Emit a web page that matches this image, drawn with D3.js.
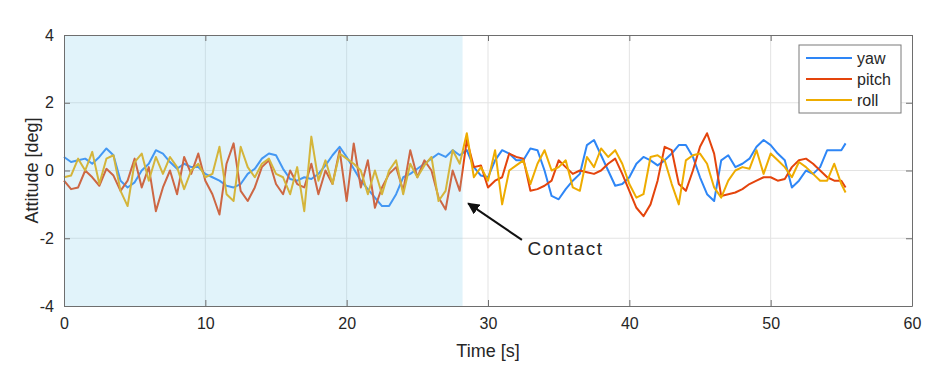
<!DOCTYPE html>
<html>
<head>
<meta charset="utf-8">
<script src="https://cdn.jsdelivr.net/npm/d3@7"></script>
<style>
  body { margin: 0; background: #fff; }
  text { font-family: "Liberation Sans", Arial, sans-serif; fill: #262626; }
</style>
</head>
<body>
<div id="container"></div>
<script>
var WIDTH = 947,
	HEIGHT = 367,
	LEFT = 64, RIGHT = 35, TOP = 35, BOTTOM = 61;

// sample times: every 0.5 s up to 55 s, then last sample at 55.3 s
var time = d3.range(0, 55.01, 0.5).concat([55.3]);

var yaw = [
	0.4, 0.25, 0.3, 0.35, 0.2, 0.4, 0.65, 0.45, -0.3, -0.5,
	-0.35, 0.0, 0.2, 0.6, 0.5, 0.25, 0.05, 0.2, 0.1, 0.1,
	-0.1, -0.2, -0.3, -0.45, -0.5, -0.4, -0.1, 0.05, 0.35, 0.5,
	0.45, 0.05, -0.25, -0.3, -0.2, -0.25, -0.1, 0.15, 0.45, 0.7,
	0.4, 0.05, -0.3, -0.55, -0.8, -1.05, -1.05, -0.7, -0.2, -0.1,
	0.05, 0.2, 0.35, 0.5, 0.4, 0.6, 0.45, 0.6, 0.1, -0.15,
	-0.2, 0.3, 0.6, 0.5, 0.3, 0.3, 0.65, 0.6, 0.0, -0.75,
	-0.85, -0.55, -0.3, -0.1, 0.75, 0.9, 0.45, 0.0, -0.45, -0.4,
	-0.2, 0.2, 0.4, 0.3, 0.15, 0.3, 0.5, 0.75, 0.75, 0.4,
	-0.2, -0.7, -0.9, 0.3, 0.45, 0.1, 0.2, 0.35, 0.7, 0.9,
	0.75, 0.5, 0.3, -0.5, -0.3, 0.0, -0.1, 0.1, 0.6, 0.6,
	0.6, 0.8
];
var pitch = [
	-0.3, -0.55, -0.5, 0.0, -0.2, -0.45, 0.05, -0.15, -0.6, -0.3,
	0.35, -0.5, 0.1, -1.2, -0.5, 0.0, -0.7, 0.4, -0.1, 0.5,
	-0.3, -0.7, -1.3, 0.2, 0.8, -0.6, -0.9, -0.5, 0.1, 0.3,
	-0.4, -0.7, 0.0, -0.4, -0.5, 0.2, -0.7, 0.0, -0.4, 0.6,
	-0.9, 0.8, -0.5, 0.3, -1.1, -0.5, -0.1, 0.1, -0.6, 0.6,
	-0.2, 0.3, 0.0, -0.8, -1.15, 0.0, -0.6, 0.9, 0.1, 0.15,
	-0.5, -0.3, -0.2, 0.5, 0.4, 0.35, -0.6, -0.55, -0.45, -0.3,
	0.3, 0.1, -0.1, 0.0, -0.05, -0.1, 0.0, 0.2, 0.35, -0.1,
	-0.6, -1.1, -1.35, -1.0, -0.3, 0.7, 0.6, -0.4, -0.6, 0.0,
	0.7, 1.1, 0.5, -0.75, -0.7, -0.65, -0.55, -0.4, -0.3, -0.2,
	-0.2, -0.3, -0.25, 0.1, 0.3, 0.35, 0.2, 0.0, -0.2, -0.3,
	-0.3, -0.5
];
var roll = [
	-0.2, -0.15, 0.35, 0.0, 0.55, -0.4, 0.35, 0.45, -0.6, -1.05,
	0.25, 0.5, -0.3, 0.4, -0.1, 0.4, 0.1, -0.55, 0.0, 0.2,
	-0.2, -0.1, 0.7, -0.7, -0.9, 0.7, 0.1, -0.2, 0.2, 0.35,
	-0.1, -0.2, -0.7, 0.1, -1.2, 1.0, -0.3, 0.3, -0.4, 0.5,
	0.35, 0.2, 0.0, -0.7, 0.0, -0.7, 0.0, 0.3, -0.7, 0.2,
	-0.2, 0.15, 0.4, -0.9, -0.6, 0.6, 0.2, 1.1, -0.2, 0.1,
	-0.3, 0.6, -1.0, 0.0, 0.15, 0.3, -0.4, 0.2, 0.6, 0.0,
	0.1, 0.3, -0.5, -0.6, 0.4, 0.1, 0.65, 0.4, 0.6, 0.2,
	-0.4, -0.8, -0.7, 0.4, 0.45, 0.3, -0.4, -1.0, 0.3, 0.45,
	0.5, 0.2, -0.5, -0.8, -0.3, 0.0, 0.1, 0.05, 0.6, -0.1,
	0.5, 0.3, 0.1, -0.2, 0.25, 0.1, -0.1, -0.3, -0.3, 0.2,
	-0.4, -0.65
];

var seriesNames = ['yaw', 'pitch', 'roll'];
var seriesColors = ['#2e86f6', '#e4440c', '#eeac00'];
var xTicks = [0, 10, 20, 30, 40, 50, 60];
var yTicks = [-4, -2, 0, 2, 4];
var contactTime = 28.2;

var xScale = d3.scaleLinear().domain([0, 60]).range([LEFT, WIDTH - RIGHT]);
var yScale = d3.scaleLinear().domain([-4, 4]).range([HEIGHT - BOTTOM, TOP]);

var translate = function (x, y) {
	return "translate(" + x + "," + y + ")";
};

function drawGrid(svg) {
	svg.append('g').selectAll('line').data(xTicks.slice(1, -1)).enter()
		.append('line')
		.attr('x1', function(d){ return xScale(d) }).attr('x2', function(d){ return xScale(d) })
		.attr('y1', TOP).attr('y2', HEIGHT - BOTTOM)
		.attr('stroke', '#e3e3e3').attr('stroke-width', 1);
	svg.append('g').selectAll('line').data(yTicks.slice(1, -1)).enter()
		.append('line')
		.attr('y1', function(d){ return yScale(d) }).attr('y2', function(d){ return yScale(d) })
		.attr('x1', LEFT).attr('x2', WIDTH - RIGHT)
		.attr('stroke', '#e3e3e3').attr('stroke-width', 1);
}

function drawAxis(svg) {
	var plain = function(d){ return String(d) };
	var gx = svg.append('g').attr('transform', translate(0, HEIGHT - BOTTOM))
		.call(d3.axisBottom(xScale).tickValues(xTicks).tickFormat(plain).tickSizeInner(-6).tickSizeOuter(0).tickPadding(12));
	var gxt = svg.append('g').attr('transform', translate(0, TOP))
		.call(d3.axisTop(xScale).tickValues(xTicks).tickSizeInner(-6).tickSizeOuter(0).tickFormat(''));
	var gy = svg.append('g').attr('transform', translate(LEFT, 0))
		.call(d3.axisLeft(yScale).tickValues(yTicks).tickFormat(plain).tickSizeInner(-6).tickSizeOuter(0).tickPadding(10));
	var gyr = svg.append('g').attr('transform', translate(WIDTH - RIGHT, 0))
		.call(d3.axisRight(yScale).tickValues(yTicks).tickSizeInner(-6).tickSizeOuter(0).tickFormat(''));
	[gx, gxt, gy, gyr].forEach(function(g){
		g.selectAll('path, line').attr('stroke', '#6e6e6e');
		g.selectAll('text').attr('font-size', 16).attr('fill', '#262626')
			.attr('font-family', '"Liberation Sans", Arial, sans-serif');
	});
	svg.append('text')
		.attr('x', (LEFT + WIDTH - RIGHT) / 2).attr('y', HEIGHT - 10)
		.attr('text-anchor', 'middle').attr('font-size', 18)
		.text('Time [s]');
	svg.append('text')
		.attr('transform', translate(38, (TOP + HEIGHT - BOTTOM) / 2) + ' rotate(-90)')
		.attr('text-anchor', 'middle').attr('font-size', 18)
		.text('Attitude [deg]');
}

function drawLines(svg) {
	var data = [yaw, pitch, roll];
	var line = d3.line()
		.x(function(d, i){ return xScale(time[i]) })
		.y(function(d){ return yScale(d) });
	svg.append('g').selectAll('path').data(data).enter()
		.append('path')
		.attr('d', line)
		.attr('fill', 'none')
		.attr('stroke', function(d, i){ return seriesColors[i] })
		.attr('stroke-width', 2)
		.attr('stroke-linejoin', 'round');
}

function drawShade(svg) {
	svg.append('rect')
		.attr('x', xScale(0)).attr('y', yScale(4))
		.attr('width', xScale(contactTime) - xScale(0))
		.attr('height', yScale(-4) - yScale(4))
		.attr('fill', 'rgb(135,206,235)').attr('fill-opacity', 0.25);
}

function drawAnnotation(svg) {
	svg.append('defs').append('marker')
		.attr('id', 'head').attr('viewBox', '0 0 10 10')
		.attr('refX', 9).attr('refY', 5)
		.attr('markerWidth', 6).attr('markerHeight', 6)
		.attr('orient', 'auto')
		.append('path').attr('d', 'M0,0 L10,5 L0,10 z').attr('fill', '#111');
	svg.append('line')
		.attr('x1', xScale(32.4)).attr('y1', yScale(-2.05))
		.attr('x2', xScale(28.6)).attr('y2', yScale(-0.97))
		.attr('stroke', '#111').attr('stroke-width', 2)
		.attr('marker-end', 'url(#head)');
	svg.append('text')
		.attr('x', xScale(32.8)).attr('y', yScale(-2.5))
		.attr('font-family', 'Lato, sans-serif').attr('font-size', 19)
		.attr('letter-spacing', 1.5).attr('fill', '#111')
		.text('Contact');
}

function drawLegend(svg) {
	var g = svg.append('g').attr('transform', translate(799, 45));
	g.append('rect').attr('width', 102).attr('height', 68)
		.attr('fill', '#fff').attr('stroke', '#7a7a7a').attr('stroke-width', 1);
	var rows = g.selectAll('g.row').data(seriesNames).enter()
		.append('g').attr('transform', function(d, i){ return translate(0, 13 + i * 21) });
	rows.append('line').attr('x1', 7).attr('x2', 53)
		.attr('stroke', function(d, i){ return seriesColors[i] }).attr('stroke-width', 2);
	rows.append('text').attr('x', 58).attr('dy', '0.35em')
		.attr('font-size', 16).text(function(d){ return d });
}

function visualize() {
	var svg = d3.select('#container').append('svg')
		.attr('width', WIDTH).attr('height', HEIGHT);
	drawGrid(svg);
	drawLines(svg);
	drawShade(svg);
	drawAxis(svg);
	drawAnnotation(svg);
	drawLegend(svg);
}

window.onload = visualize;
</script>
</body>
</html>
